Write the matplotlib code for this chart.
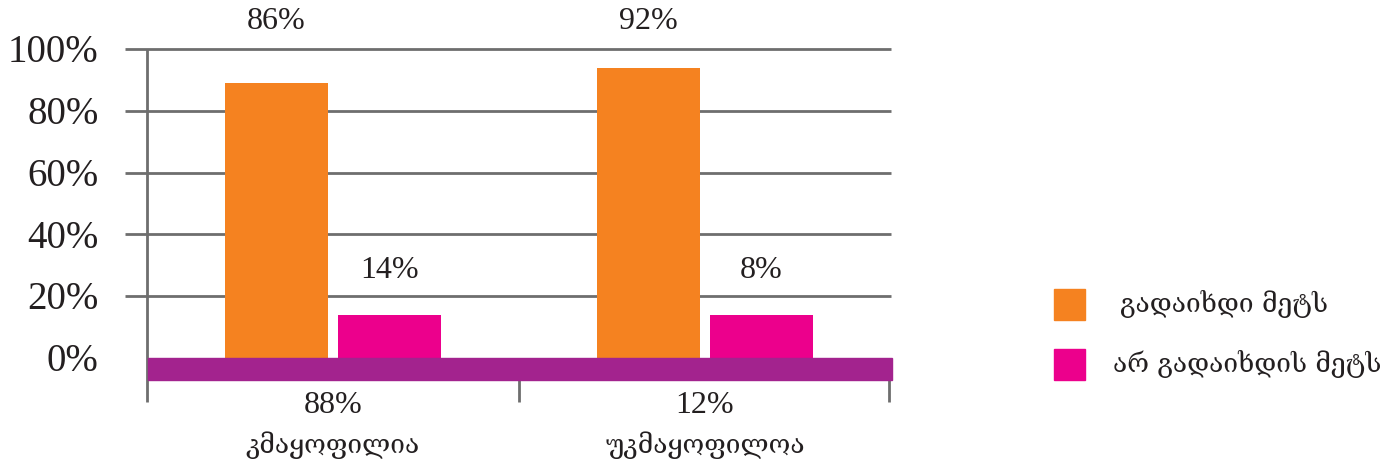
import matplotlib
matplotlib.use("Agg")
import matplotlib.pyplot as plt
from matplotlib.patches import Rectangle

categories = ["კმაყოფილია", "უკმაყოფილოა"]
series_names = ["გადაიხდი მეტს", "არ გადაიხდის მეტს"]
pay_more = [89, 94]
not_pay_more = [14, 14]
pay_more_labels = ["86%", "92%"]
not_pay_more_labels = ["14%", "8%"]
bottom_labels = ["88%", "12%"]
yticks = [0, 20, 40, 60, 80, 100]
ytick_labels = ["0%", "20%", "40%", "60%", "80%", "100%"]

ORANGE = "#F58220"
PINK = "#EC008C"
PURPLE = "#A3238E"
GRID = "#6E6E6E"
TXT = "#231F20"
NUM_FONT = ["Liberation Serif", "DejaVu Serif"]
GEO_FONT = ["DejaVu Serif", "DejaVu Sans"]

W, H = 1397, 468
fig = plt.figure(figsize=(W / 100, H / 100), dpi=100)
ax = fig.add_axes([147 / W, 1 - 402 / H, (891 - 147) / W, (402 - 49) / H])
ax.set_xlim(-0.5, 1.5)
ax.set_ylim(-14.2, 100)
for s in ax.spines.values():
    s.set_visible(False)
ax.set_xticks([])
ax.set_yticks([])

x = list(range(len(categories)))
off = 0.152
bw = 0.277

# gridlines
ax.hlines(yticks[1:], -0.559, 1.5, color=GRID, lw=2.0, clip_on=False, zorder=1)
# left axis line
ax.vlines(-0.5, -14.2, 100, color=GRID, lw=2.0, clip_on=False, zorder=1)
# bottom ticks
ax.vlines([0.5, 1.495], -14.2, -7.1, color=GRID, lw=2.0, clip_on=False, zorder=1)

ax.bar([i - off for i in x], pay_more, width=bw, color=ORANGE, zorder=2, label=series_names[0])
ax.bar([i + off for i in x], not_pay_more, width=bw, color=PINK, zorder=2, label=series_names[1])

# floor band
ax.add_patch(Rectangle((-0.497, -7.1), 2.0, 7.1, color=PURPLE, zorder=3, clip_on=False))

for i in x:
    ax.text(i - off, 109, pay_more_labels[i], ha="center", va="center", fontsize=23,
            family=NUM_FONT, color=TXT, clip_on=False)
    ax.text(i + off, 28.5, not_pay_more_labels[i], ha="center", va="center", fontsize=23,
            family=NUM_FONT, color=TXT)
    ax.text(i, -15.2, bottom_labels[i], ha="center", va="center", fontsize=23,
            family=NUM_FONT, color=TXT, clip_on=False)
    ax.text(i, -28.3, categories[i], ha="center", va="center", fontsize=19,
            family=GEO_FONT, color=TXT, clip_on=False)

for v, lab in zip(yticks, ytick_labels):
    ax.text(-0.63, v - 1.2, lab, ha="right", va="center", fontsize=28,
            family=NUM_FONT, color=TXT, clip_on=False)

# legend
for k, (col, name) in enumerate(zip([ORANGE, PINK], series_names)):
    y0 = [320, 380][k]
    fig.patches.append(Rectangle((1054 / W, 1 - y0 / H), 31 / W, 31 / H, color=col,
                                 transform=fig.transFigure, figure=fig))
    xt = [1120, 1113][k]
    fig.text(xt / W, 1 - (y0 - 16) / H, name, ha="left", va="center", fontsize=19,
             family=GEO_FONT, color=TXT)

fig.savefig("out.png", dpi=100)
